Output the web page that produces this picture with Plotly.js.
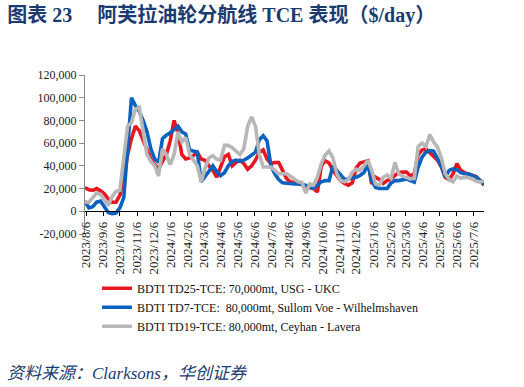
<!DOCTYPE html>
<html>
<head>
<meta charset="utf-8">
<script src="https://cdn.plot.ly/plotly-3.0.1.min.js"></script>
<style>html,body{margin:0;padding:0;background:#fff;}#chart{width:524px;height:387px;}</style>
</head>
<body>
<div id="chart"></div>
<script>
var dates = ['2023-08-04','2023-08-11','2023-08-18','2023-08-25','2023-09-01','2023-09-08','2023-09-15','2023-09-22','2023-09-29','2023-10-06',
'2023-10-13','2023-10-20','2023-10-27','2023-11-03','2023-11-10','2023-11-17','2023-11-24','2023-12-01','2023-12-08','2023-12-15',
'2023-12-22','2023-12-29','2024-01-05','2024-01-12','2024-01-19','2024-01-26','2024-02-02','2024-02-09','2024-02-16','2024-02-23',
'2024-03-01','2024-03-08','2024-03-15','2024-03-22','2024-03-29','2024-04-05','2024-04-12','2024-04-19','2024-04-26','2024-05-03',
'2024-05-10','2024-05-17','2024-05-24','2024-05-31','2024-06-07','2024-06-14','2024-06-21','2024-06-28','2024-07-05','2024-07-12',
'2024-07-19','2024-07-26','2024-08-02','2024-08-09','2024-08-16','2024-08-23','2024-08-30','2024-09-06','2024-09-13','2024-09-20',
'2024-09-27','2024-10-04','2024-10-11','2024-10-18','2024-10-25','2024-11-01','2024-11-08','2024-11-15','2024-11-22','2024-11-29',
'2024-12-06','2024-12-13','2024-12-20','2024-12-27','2025-01-03','2025-01-10','2025-01-17','2025-01-24','2025-01-31','2025-02-07',
'2025-02-14','2025-02-21','2025-02-28','2025-03-07','2025-03-14','2025-03-21','2025-03-28','2025-04-04','2025-04-11','2025-04-18',
'2025-04-25','2025-05-02','2025-05-09','2025-05-16','2025-05-23','2025-05-30','2025-06-06','2025-06-13','2025-06-20','2025-06-27',
'2025-07-04','2025-07-11','2025-07-18','2025-07-25'];

var td25 = [21000,19000,18500,20000,18000,15500,11000,8000,8000,14000,
30000,50000,64000,75000,71000,62000,54000,46000,41000,37000,
44000,50000,62000,80000,69000,50000,46000,47000,49000,52000,
46000,45000,40000,36000,30000,38000,48000,50000,40000,43000,
45000,42000,37000,40000,45000,52000,54000,46000,42000,43000,
43000,36000,29000,26000,25500,25000,23500,21500,21000,20000,
17000,40000,44500,42500,36000,31000,27000,24500,23000,25000,
38000,42500,43500,44500,24000,30000,28000,24500,27000,28500,
31500,34000,34500,34500,31000,33000,50000,54000,55000,52000,
48000,45000,39000,30000,28000,33000,42000,36000,34000,33000,
31500,30500,27000,23000];

var td7 = [9000,3000,4000,8000,9000,4000,-1000,-2000,-1500,3000,
12000,55000,100000,93000,88000,80000,70000,55000,46000,43000,
64000,67000,69000,72000,75000,70000,68000,54000,53000,52000,
26000,31000,36000,40000,35000,31500,34000,40000,44000,45000,
44000,45000,47000,50000,52000,63000,66500,62000,40000,33000,
28000,25000,24500,24000,24000,24000,23500,23000,21000,20500,
23000,26000,27000,27000,40000,36000,31000,28000,28500,29000,
30000,31500,34000,41500,27000,21000,20000,20000,20000,25000,
27000,27000,28000,28500,27000,25700,39000,47600,52000,53500,
53000,47000,40000,30000,36000,37400,36500,34000,33000,33000,
31500,30000,27000,24000];

var td19 = [8000,8000,12000,16000,15000,10000,5000,13000,17500,18500,
46000,75000,78000,90000,91500,70000,50000,44000,40000,31000,
55000,50000,41000,50000,70000,61000,65000,50000,45000,40000,
26000,38000,47000,49000,46000,45000,58000,58000,56000,53000,
50000,55000,75000,83000,75000,50000,39000,39000,39000,36000,
33000,33000,33000,31000,28000,26000,25500,16000,24000,23000,
30000,42000,49500,53000,47000,33000,27000,26000,28000,34500,
37000,36000,40000,45000,36000,24000,23000,30000,32000,29000,
43000,33000,31000,29500,28600,29000,57000,60000,57000,67500,
61000,56500,47000,33000,28000,26000,31000,29000,30000,29500,
28500,26500,25700,27000];

var seriesNames = ['BDTI TD25-TCE: 70,000mt, USG - UKC',
                   'BDTI TD7-TCE:\u00a0\u00a080,000mt, Sullom Voe - Wilhelmshaven',
                   'BDTI TD19-TCE: 80,000mt, Ceyhan - Lavera'];
var seriesColors = ['#e8161f', '#0a62c0', '#b7b7b7'];

var xTickVals = ['2023-08-06','2023-09-06','2023-10-06','2023-11-06','2023-12-06','2024-01-06','2024-02-06','2024-03-06',
'2024-04-06','2024-05-06','2024-06-06','2024-07-06','2024-08-06','2024-09-06','2024-10-06','2024-11-06','2024-12-06',
'2025-01-06','2025-02-06','2025-03-06','2025-04-06','2025-05-06','2025-06-06','2025-07-06'];
var xTickText = ['2023/8/6','2023/9/6','2023/10/6','2023/11/6','2023/12/6','2024/1/6','2024/2/6','2024/3/6',
'2024/4/6','2024/5/6','2024/6/6','2024/7/6','2024/8/6','2024/9/6','2024/10/6','2024/11/6','2024/12/6',
'2025/1/6','2025/2/6','2025/3/6','2025/4/6','2025/5/6','2025/6/6','2025/7/6'];
var yTickVals = [-20000,0,20000,40000,60000,80000,100000,120000];
var yTickText = ['-20,000','0','20,000','40,000','60,000','80,000','100,000','120,000'];

var titleText = '图表 23\u00a0\u00a0\u00a0\u00a0\u00a0阿芙拉油轮分航线 TCE 表现（$/day）';
var sourceText = '资料来源：Clarksons，华创证券';

var valueSets = [td25, td7, td19];
var traces = valueSets.map(function (vals, i) {
  return {
    type: 'scatter', mode: 'lines', x: dates, y: vals, name: seriesNames[i],
    line: {color: seriesColors[i], width: 3.6}
  };
});

var serif = '"Liberation Serif", "Times New Roman", serif';
var navy = '#1b3b70';
var layout = {
  width: 524, height: 387,
  margin: {l: 85, r: 40, t: 75, b: 153, pad: 0},
  paper_bgcolor: '#fff', plot_bgcolor: '#fff',
  showlegend: true,
  title: {
    text: titleText, xref: 'container', yref: 'container', x: 0.014, y: 0.962,
    xanchor: 'left', yanchor: 'middle',
    font: {family: serif + ', "Noto Sans CJK SC"', size: 20, color: navy, weight: 'bold'}
  },
  xaxis: {
    type: 'date', range: [dates[0], dates[dates.length - 1]],
    anchor: 'free', position: 1 / 7, automargin: false,
    showline: true, linecolor: '#000', linewidth: 1.2,
    ticks: 'outside', ticklen: 4, tickcolor: '#000', tickwidth: 1,
    tickmode: 'array', tickvals: xTickVals, ticktext: xTickText, tickangle: -90,
    tickfont: {family: serif, size: 13, color: '#222'},
    showgrid: false, zeroline: false, fixedrange: true
  },
  yaxis: {
    range: [-20000, 120000], automargin: false,
    tickmode: 'array', tickvals: yTickVals, ticktext: yTickText,
    showline: true, linecolor: '#8a8a8a', linewidth: 1,
    ticks: 'outside', ticklen: 5, tickcolor: '#8a8a8a',
    tickfont: {family: serif, size: 12, color: '#222'},
    showgrid: false, zeroline: false, fixedrange: true
  },
  legend: {
    x: 0.03, y: -0.25, xanchor: 'left', yanchor: 'top',
    font: {family: serif, size: 12, color: '#111'},
    bgcolor: 'rgba(0,0,0,0)', tracegroupgap: 0, itemwidth: 30
  },
  annotations: [{
    text: sourceText, xref: 'paper', yref: 'paper', x: -0.2, y: -0.88,
    xanchor: 'left', yanchor: 'middle', showarrow: false,
    font: {family: serif + ', "Noto Sans CJK SC"', size: 17, color: navy, style: 'italic'}
  }]
};

Plotly.newPlot('chart', traces, layout, {displayModeBar: false, staticPlot: true});
</script>
</body>
</html>
